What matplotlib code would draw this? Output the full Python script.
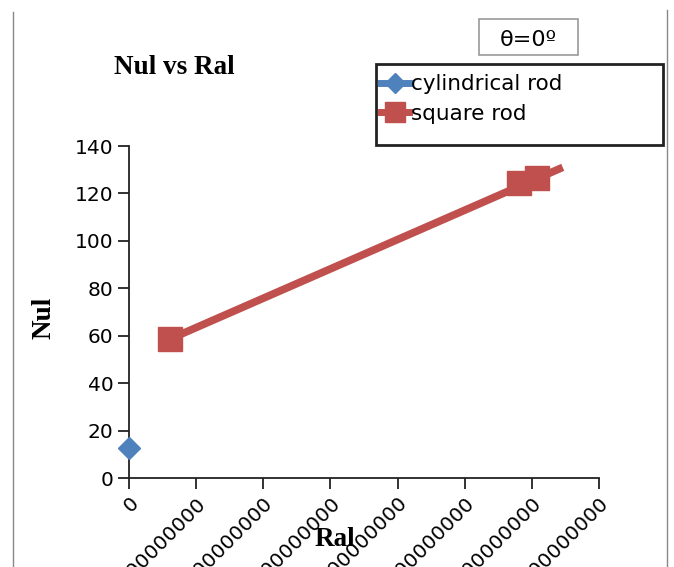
import matplotlib
matplotlib.use("Agg")
import matplotlib.pyplot as plt
from matplotlib.patches import Rectangle
from matplotlib.lines import Line2D

# data
cyl_ra = [0.0]
cyl_nu = [12.5]
sq_ra = [0.61e8, 5.81e8, 6.07e8]
sq_nu = [58.6, 124.5, 126.5]
trend_ra = [0.61e8, 6.46e8]
trend_nu = [58.6, 131.0]
xticks = [0, 1e8, 2e8, 3e8, 4e8, 5e8, 6e8, 7e8]
xticklabels = ["0", "100000000", "200000000", "300000000", "400000000",
               "500000000", "600000000", "700000000"]
yticks = [0, 20, 40, 60, 80, 100, 120, 140]

W, H = 674, 567
fig = plt.figure(figsize=(W / 100, H / 100), dpi=100)
fig.patch.set_facecolor("white")

def fx(px):
    return px / W

def fy(py):
    return 1 - py / H

ax = fig.add_axes([fx(129), fy(478), fx(599) - fx(129), fy(146) - fy(478)])
ax.set_xlim(0, 7e8)
ax.set_ylim(0, 140)

blue = "#4F81BD"
red = "#C0504D"

ax.plot(trend_ra, trend_nu, color=red, lw=5.5, solid_capstyle="butt", zorder=3)
ax.plot(sq_ra, sq_nu, linestyle="none", marker="s", markersize=17,
        color=red, zorder=4, clip_on=False)
ax.plot(cyl_ra, cyl_nu, linestyle="none", marker="D", markersize=11,
        color=blue, zorder=5, clip_on=False)

for s in ["top", "right"]:
    ax.spines[s].set_visible(False)
for s in ["left", "bottom"]:
    ax.spines[s].set_color("#222222")
    ax.spines[s].set_linewidth(1.3)

tickfont = "DejaVu Sans"
ax.set_yticks(yticks)
ax.set_yticklabels([str(v) for v in yticks], fontfamily=tickfont, fontsize=14.5)
ax.set_xticks(xticks)
ax.set_xticklabels(xticklabels, fontfamily=tickfont, fontsize=14.5,
                   rotation=45, ha="right", rotation_mode="anchor")
ax.tick_params(axis="both", direction="out", length=8, width=1.3, color="#222222")
ax.tick_params(axis="y", pad=3)
ax.tick_params(axis="x", pad=3)

# titles and labels
fig.text(fx(174), fy(67), "Nul vs Ral", fontfamily="Liberation Serif",
         fontweight="bold", fontsize=19.5, ha="center", va="center")
fig.text(fx(44), fy(318), "Nul", fontfamily="Liberation Serif",
         fontweight="bold", fontsize=19.5, ha="center", va="center", rotation=90)
fig.text(fx(335), fy(539), "Ral", fontfamily="Liberation Serif",
         fontweight="bold", fontsize=19.5, ha="center", va="center")

# chart border lines
fig.add_artist(Line2D([fx(13), fx(13)], [fy(12), 0], color="#888888", lw=1))
fig.add_artist(Line2D([fx(667), fx(667)], [fy(10), 0], color="#888888", lw=1))

# theta box
fig.add_artist(Rectangle((fx(479), fy(55)), fx(578) - fx(479), fy(19) - fy(55),
                         transform=fig.transFigure, fill=True, facecolor="white",
                         edgecolor="#999999", lw=1.2))
fig.text(fx(528.5), fy(40), "θ=0º", fontfamily=tickfont, fontsize=16,
         ha="center", va="center")

# legend frame
fig.add_artist(Rectangle((fx(376), fy(145)), fx(663) - fx(376), fy(64) - fy(145),
                         transform=fig.transFigure, fill=True, facecolor="white",
                         edgecolor="#222222", lw=2, zorder=10))
handles = [
    Line2D([0], [0], color=blue, lw=5, marker="D", markersize=10),
    Line2D([0], [0], color=red, lw=5, marker="s", markersize=14),
]
leg = fig.legend(handles, ["cylindrical rod", "square rod"], loc="upper left",
                 bbox_to_anchor=(fx(366), fy(59)), frameon=False,
                 prop={"family": tickfont, "size": 15.5}, handlelength=1.3,
                 handletextpad=0.1, labelspacing=0.45, borderpad=0.2)
leg.set_zorder(11)

fig.savefig("out.png", dpi=100, facecolor="white")
